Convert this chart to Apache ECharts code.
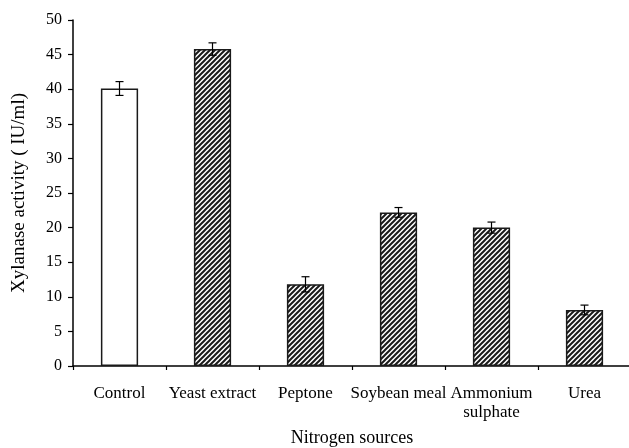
<!DOCTYPE html>
<html>
<head>
<meta charset="utf-8">
<script src="https://cdn.jsdelivr.net/npm/echarts@6/dist/echarts.min.js"></script>
<style>
  html, body { margin: 0; padding: 0; background: #fff; }
  #chart { width: 629px; height: 448px; }
</style>
</head>
<body>
<div id="chart"></div>
<script>
// Xylanase activity by nitrogen source
const categories = ['Control', 'Yeast extract', 'Peptone', 'Soybean meal', 'Ammonium\nsulphate', 'Urea'];
const activity = [40.1, 45.8, 11.8, 22.2, 20.0, 8.1];
const errors = [1.0, 0.9, 1.1, 0.7, 0.8, 0.7];
const yTicks = { min: 0, max: 50, interval: 5 };

// diagonal hatch tile for the treated sources
function hatchTile() {
  const s = 5;
  const c = document.createElement('canvas');
  c.width = s; c.height = s;
  const g = c.getContext('2d');
  g.fillStyle = '#ffffff';
  g.fillRect(0, 0, s, s);
  g.strokeStyle = '#1a1a1a';
  g.lineWidth = 2;
  g.beginPath();
  g.moveTo(-1, s + 1); g.lineTo(s + 1, -1);
  g.moveTo(-1, 1); g.lineTo(1, -1);
  g.moveTo(s - 1, s + 1); g.lineTo(s + 1, s - 1);
  g.stroke();
  return c;
}
const hatch = { image: hatchTile(), repeat: 'repeat' };

const font = '"Liberation Serif", "DejaVu Serif", serif';
const chart = echarts.init(document.getElementById('chart'));

chart.setOption({
  animation: false,
  textStyle: { fontFamily: font, color: '#000' },
  grid: { left: 73, top: 20, width: 558, bottom: 82, containLabel: false, outerBoundsMode: 'none' },
  xAxis: {
    type: 'category',
    data: categories,
    name: 'Nitrogen sources',
    nameLocation: 'middle',
    nameGap: 63,
    nameTextStyle: { fontFamily: font, fontSize: 18, color: '#000' },
    axisLine: { lineStyle: { color: '#000', width: 1.5 } },
    axisTick: { show: true, alignWithLabel: false, length: 4, lineStyle: { color: '#000', width: 1.2 } },
    axisLabel: { fontFamily: font, fontSize: 17, color: '#000', margin: 18, interval: 0, lineHeight: 19, verticalAlign: 'top' }
  },
  yAxis: {
    type: 'value',
    min: yTicks.min, max: yTicks.max, interval: yTicks.interval,
    name: 'Xylanase activity ( IU/ml)',
    nameLocation: 'middle',
    nameGap: 44,
    nameTextStyle: { fontFamily: font, fontSize: 19, color: '#000' },
    axisLine: { show: true, lineStyle: { color: '#000', width: 1.5 } },
    axisTick: { show: true, length: 5, lineStyle: { color: '#000', width: 1.2 } },
    axisLabel: { fontFamily: font, fontSize: 16, color: '#000', margin: 11 },
    splitLine: { show: false }
  },
  series: [
    {
      type: 'bar',
      barWidth: '40%',
      data: activity.map((v, i) => ({
        value: v,
        itemStyle: {
          color: i === 0 ? '#ffffff' : hatch,
          borderColor: '#1a1a1a',
          borderWidth: 1.5
        }
      })),
      z: 2
    },
    {
      type: 'custom',
      z: 3,
      data: activity.map((v, i) => [i, v - errors[i], v + errors[i]]),
      renderItem: function (params, api) {
        const lo = api.coord([api.value(0), api.value(1)]);
        const hi = api.coord([api.value(0), api.value(2)]);
        const cap = 4;
        const style = { stroke: '#000', lineWidth: 1.2, fill: null };
        return {
          type: 'group',
          children: [
            { type: 'line', shape: { x1: lo[0], y1: lo[1], x2: hi[0], y2: hi[1] }, style: style },
            { type: 'line', shape: { x1: lo[0] - cap, y1: lo[1], x2: lo[0] + cap, y2: lo[1] }, style: style },
            { type: 'line', shape: { x1: hi[0] - cap, y1: hi[1], x2: hi[0] + cap, y2: hi[1] }, style: style }
          ]
        };
      }
    }
  ]
});
</script>
</body>
</html>
